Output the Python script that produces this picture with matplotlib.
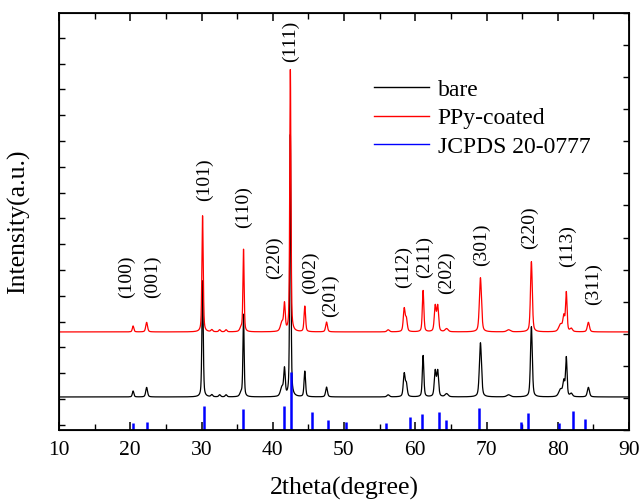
import numpy as np
import matplotlib
matplotlib.use("Agg")
import matplotlib.pyplot as plt
from matplotlib.lines import Line2D

plt.rcParams['font.family'] = ['Liberation Serif', 'DejaVu Serif']
plt.rcParams['mathtext.fontset'] = 'stix'

# Diffraction peaks shared by both samples: position (2theta), height (a.u.), FWHM (deg)
peak_pos = [20.40, 22.30, 30.15, 31.45, 32.55, 33.45, 35.55, 35.90, 41.30, 41.65,
            42.47, 44.50, 47.55, 56.20, 58.45, 58.75, 61.10, 62.80, 63.15, 64.40,
            69.15, 73.10, 76.30, 80.40, 80.85, 81.20, 81.90, 84.30]
peak_height = [23, 37, 450, 8, 8, 8, 14, 318, 35, 100,
               1015, 99, 38, 8, 88, 48, 160, 98, 98, 12,
               210, 8, 272, 28, 55, 150, 12, 37]
peak_fwhm = [0.25, 0.30, 0.22, 0.30, 0.30, 0.30, 0.40, 0.20, 0.50, 0.25,
             0.20, 0.25, 0.30, 0.40, 0.30, 0.30, 0.25, 0.30, 0.30, 0.50,
             0.35, 0.60, 0.30, 0.60, 0.30, 0.25, 0.40, 0.35]

# Vertical offsets of the two patterns
offset_bare = 108
offset_ppy = 360

# JCPDS 20-0777 reference lines: 2theta and relative intensity (%)
ref_pos = [20.38, 22.34, 30.39, 35.77, 41.53, 42.57, 45.56, 47.71, 50.35, 55.96,
           59.23, 61.01, 63.35, 64.29, 68.97, 74.78, 75.81, 80.16, 82.18, 83.81]
ref_int = [12, 14, 41, 36, 41, 100, 31, 17, 14, 12,
           22, 28, 31, 17, 38, 14, 29, 12, 33, 19]
ref_scale = 2.25

# Miller index labels: text, 2theta, height
hkl_text = ['(100)', '(001)', '(101)', '(110)', '(111)', '(220)', '(002)', '(201)',
            '(112)', '(211)', '(202)', '(301)', '(220)', '(113)', '(311)']
hkl_x = [19.4, 23.05, 30.35, 35.96, 42.42, 40.18, 45.23, 48.17,
         58.28, 61.23, 64.32, 69.23, 76.1, 81.3, 84.95]
hkl_y = [573, 573, 950, 844, 1487, 646, 588, 499,
         612, 650, 588, 697, 763, 693, 546]

y_min, y_max = -20, 1596

tt = np.arange(10.0, 90.0001, 0.01)


def pattern(x):
    y = np.zeros_like(x)
    eta = 0.45
    for p, h, w in zip(peak_pos, peak_height, peak_fwhm):
        hw = w / 2.0
        lor = 1.0 / (1.0 + ((x - p) / hw) ** 2)
        gau = np.exp(-np.log(2) * ((x - p) / hw) ** 2)
        y += h * (eta * lor + (1 - eta) * gau)
    return y


profile = pattern(tt)

fig = plt.figure(figsize=(6.43, 5.01), dpi=100)
ax = fig.add_axes([59 / 643, 1 - 430 / 501, 570 / 643, 417 / 501])

ax.plot(tt, profile + offset_bare, color='black', lw=0.9)
ax.plot(tt, profile + offset_ppy, color='red', lw=0.9)
ax.vlines(ref_pos, y_min, y_min + np.array(ref_int) * ref_scale, color='blue', lw=1.8)

for t, x, y in zip(hkl_text, hkl_x, hkl_y):
    ax.text(x, y, t, rotation=90, ha='center', va='center', fontsize=14)

ax.set_xlim(10, 90)
ax.set_ylim(y_min, y_max)
ax.set_xticks(np.arange(10, 91, 10))
ax.set_xticks(np.arange(15, 90, 10), minor=True)
ax.set_yticks(np.arange(0, 1501, 100))
ax.set_yticklabels([])
ax.tick_params(axis='x', which='major', direction='in', length=6, width=1.1,
               top=True, labelsize=15.5, pad=8)
ax.tick_params(axis='x', which='minor', direction='in', length=4, width=1.0, top=True)
ax.tick_params(axis='y', which='major', direction='in', length=4, width=1.0)
for s in ax.spines.values():
    s.set_linewidth(1.3)

ax2 = ax.twinx()
ax2.set_ylim(0, 13)
ax2.set_yticks(np.arange(0, 14, 1))
ax2.set_yticklabels([])
ax2.tick_params(axis='y', direction='in', length=4, width=1.0)

ax.set_xlabel('2theta(degree)', fontsize=18.5, labelpad=12)
ax.set_ylabel('Intensity(a.u.)', fontsize=18.5, labelpad=17)

handles = [Line2D([], [], color='black', lw=1.0),
           Line2D([], [], color='red', lw=1.0),
           Line2D([], [], color='blue', lw=1.0)]
ax.legend(handles, ['bare', 'PPy-coated', 'JCPDS 20-0777'], loc='upper left',
          bbox_to_anchor=(374 / 643, 1 - 79 / 501), bbox_transform=fig.transFigure,
          frameon=False, fontsize=17, handlelength=2.35, handletextpad=0.35,
          labelspacing=0.3, borderpad=0, borderaxespad=0)

fig.savefig('out.png', dpi=100)
